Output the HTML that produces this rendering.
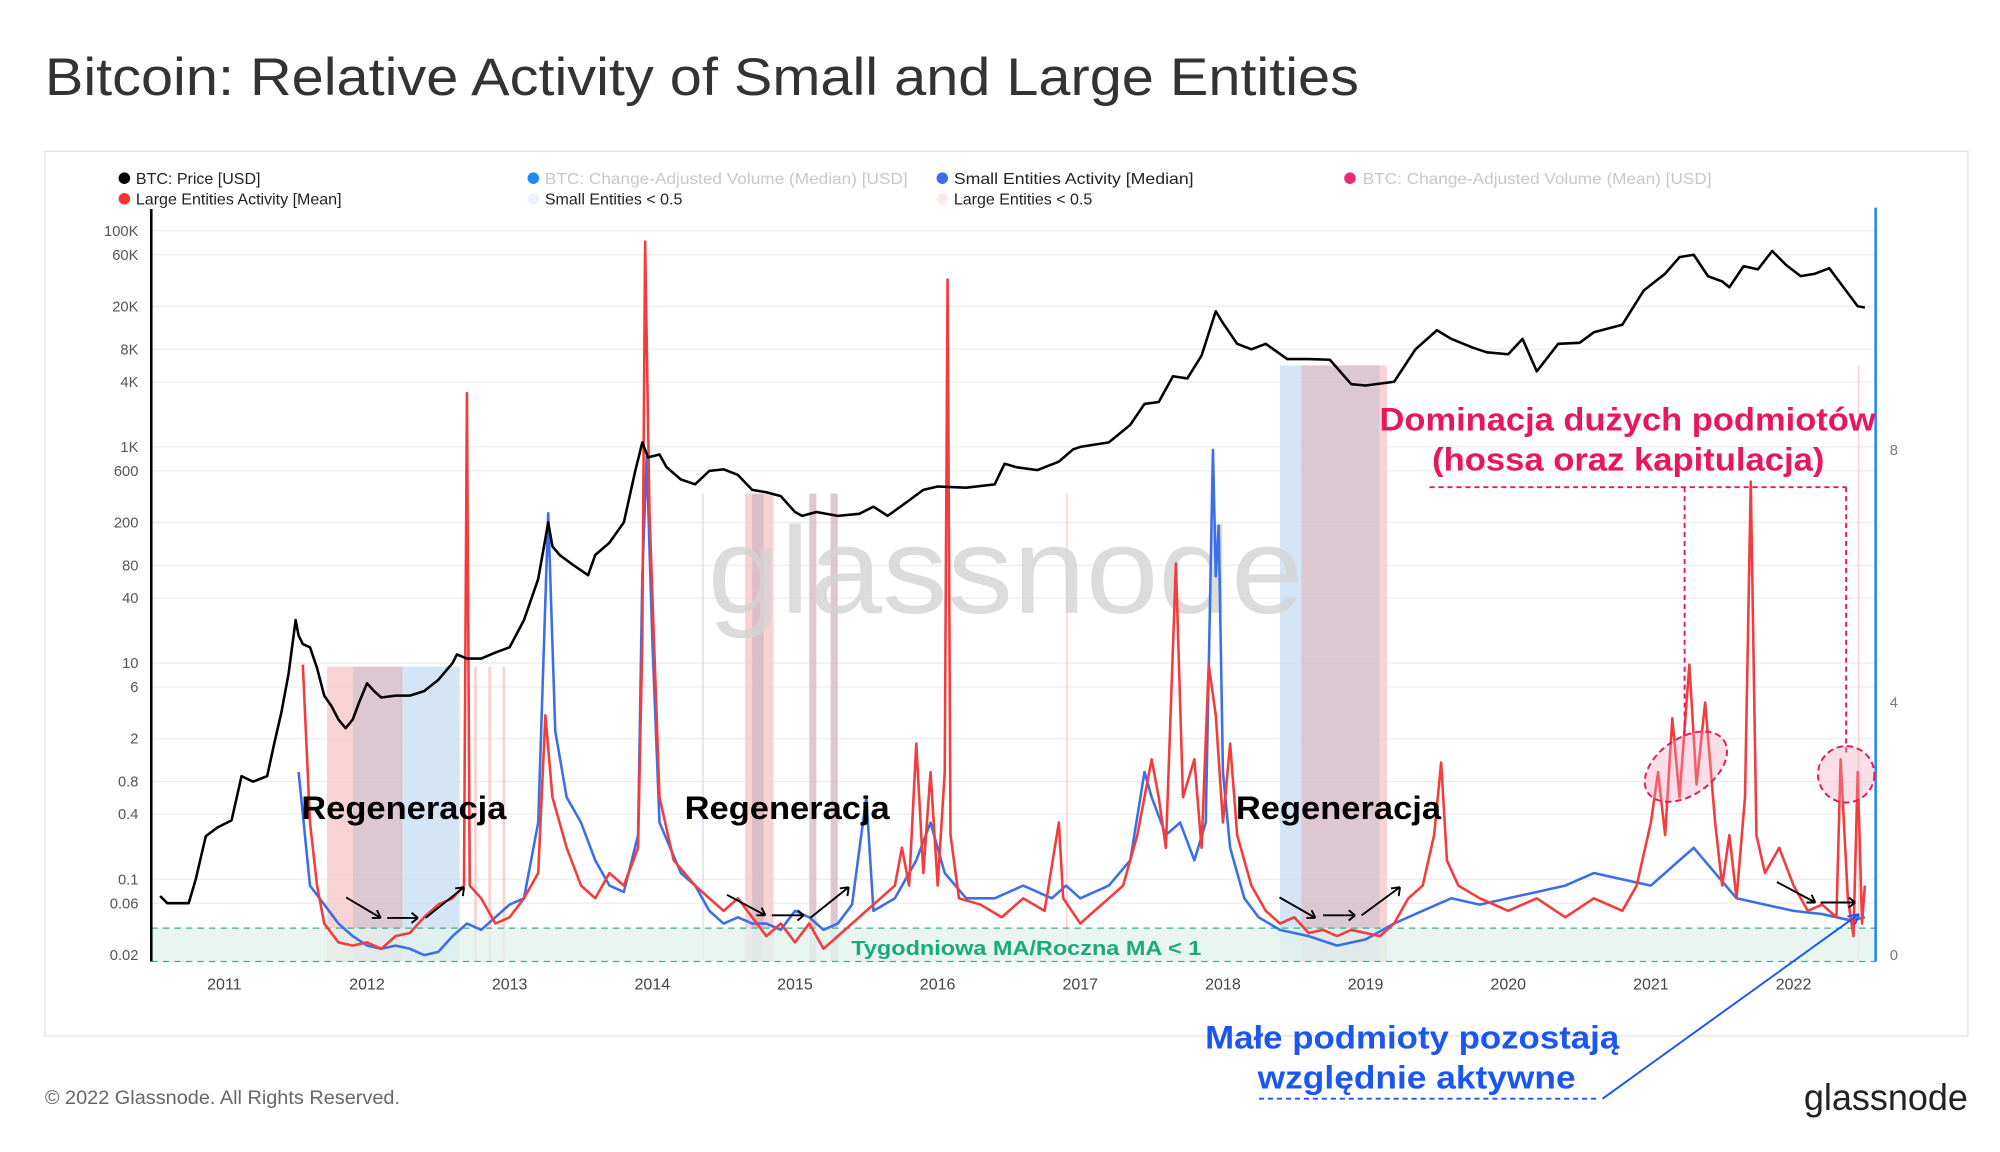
<!DOCTYPE html>
<html><head><meta charset="utf-8"><style>
html,body{margin:0;padding:0;background:#fff;}
svg{display:block;font-family:"Liberation Sans",sans-serif;}
</style></head><body>
<svg id="chart" width="2000" height="1152" viewBox="0 0 1560 898.6" preserveAspectRatio="none" xmlns="http://www.w3.org/2000/svg">
<text x="35" y="74" font-size="41" fill="#333" textLength="1025" lengthAdjust="spacingAndGlyphs">Bitcoin: Relative Activity of Small and Large Entities</text>
<rect x="35" y="118" width="1500" height="690" fill="none" stroke="#e6e6e6" stroke-width="1.2"/>
<g font-size="12.5">
 <g><circle cx="97" cy="139" r="4.5" fill="#000"/><text x="106" y="143.5" fill="#222">BTC: Price [USD]</text></g>
 <g><circle cx="97" cy="155" r="4.5" fill="#f33"/><text x="106" y="159.5" fill="#222">Large Entities Activity [Mean]</text></g>
 <g><circle cx="416" cy="139" r="4.5" fill="#1e88ff"/><text x="425" y="143.5" fill="#c8c8c8" textLength="283" lengthAdjust="spacingAndGlyphs">BTC: Change-Adjusted Volume (Median) [USD]</text></g>
 <g><circle cx="416" cy="155" r="4.5" fill="#eaf2fb"/><text x="425" y="159.5" fill="#222">Small Entities &lt; 0.5</text></g>
 <g><circle cx="735" cy="139" r="4.5" fill="#3a6fe8"/><text x="744" y="143.5" fill="#222" textLength="187" lengthAdjust="spacingAndGlyphs">Small Entities Activity [Median]</text></g>
 <g><circle cx="735" cy="155" r="4.5" fill="#fbeaea"/><text x="744" y="159.5" fill="#222">Large Entities &lt; 0.5</text></g>
 <g><circle cx="1053" cy="139" r="4.5" fill="#f0287a"/><text x="1063" y="143.5" fill="#c8c8c8" textLength="272" lengthAdjust="spacingAndGlyphs">BTC: Change-Adjusted Volume (Mean) [USD]</text></g>
</g>
<g id="grid"></g>
<g id="bands"></g>
<rect x="118" y="724" width="1345" height="26" fill="#e2f3ee" opacity="0.8"/>
<line x1="118" y1="724" x2="1463" y2="724" stroke="#3cb38a" stroke-dasharray="5,4" stroke-width="1"/>
<line x1="118" y1="750" x2="1463" y2="750" stroke="#3cb38a" stroke-dasharray="5,4" stroke-width="1"/>
<text x="552" y="478" font-size="96" fill="#d4d4d4" opacity="0.8" textLength="465" lengthAdjust="spacingAndGlyphs">glassnode</text>
<g id="yleft" font-size="11.5" fill="#555" text-anchor="end"></g>
<g id="yright" font-size="11.5" fill="#777"></g>
<g id="xaxis" font-size="12.5" fill="#444" text-anchor="middle"></g>
<line x1="118" y1="163" x2="118" y2="750" stroke="#000" stroke-width="2"/>
<line x1="1463" y1="162" x2="1463" y2="750" stroke="#1e88ff" stroke-width="2"/>
<g id="series"></g>
<text x="664" y="745" font-size="16" font-weight="bold" fill="#1aa97c" textLength="273" lengthAdjust="spacingAndGlyphs">Tygodniowa MA/Roczna MA  &lt; 1</text>
<g font-weight="bold">
 <text x="235" y="639" font-size="25" fill="#000" textLength="160" lengthAdjust="spacingAndGlyphs">Regeneracja</text>
 <text x="534" y="639" font-size="25" fill="#000" textLength="160" lengthAdjust="spacingAndGlyphs">Regeneracja</text>
 <text x="964" y="639" font-size="25" fill="#000" textLength="160" lengthAdjust="spacingAndGlyphs">Regeneracja</text>
 <text x="1076" y="336" font-size="25" fill="#e8175d" textLength="387" lengthAdjust="spacingAndGlyphs">Dominacja dużych podmiotów</text>
 <text x="1117" y="367" font-size="25" fill="#e8175d" textLength="306" lengthAdjust="spacingAndGlyphs">(hossa oraz kapitulacja)</text>
 <text x="940" y="818" font-size="25" fill="#1a56f0" textLength="323" lengthAdjust="spacingAndGlyphs">Małe podmioty pozostają</text>
 <text x="981" y="849" font-size="25" fill="#1a56f0" textLength="248" lengthAdjust="spacingAndGlyphs">względnie aktywne</text>
</g>
<g fill="none">
 <path d="M1115 380 H1440 M1314 380 V575 M1440 380 V590" stroke="#e8175d" stroke-dasharray="4,3" stroke-width="1.5"/>
 <ellipse cx="1315" cy="598" rx="36" ry="22" transform="rotate(-35 1315 598)" fill="#f5a0c0" fill-opacity="0.35" stroke="#e8175d" stroke-dasharray="5,3" stroke-width="1.5"/>
 <circle cx="1440" cy="604" r="22" fill="#f5a0c0" fill-opacity="0.35" stroke="#e8175d" stroke-dasharray="5,3" stroke-width="1.5"/>
 <path d="M982 857 H1245" stroke="#1a56f0" stroke-dasharray="4,3" stroke-width="1.5"/>
 <path d="M1250 857 L1450 713 M1450 713 l-9 2 M1450 713 l-3 8" stroke="#1a56f0" stroke-width="1.5"/>
 <g stroke="#000" stroke-width="1.5">
  <path d="M270 700 l27 16 m0 0 l-7 0 m7 0 l-3 -6"/><path d="M302 716 h24 m0 0 l-5 -4 m5 4 l-5 4"/><path d="M332 716 l30 -24 m0 0 l-7 1 m7 -1 l-1 7"/>
  <path d="M567 698 l30 16 m0 0 l-7 0 m7 0 l-3 -6"/><path d="M602 714 h25 m0 0 l-5 -4 m5 4 l-5 4"/><path d="M632 716 l30 -24 m0 0 l-7 1 m7 -1 l-1 7"/>
  <path d="M998 700 l28 16 m0 0 l-7 0 m7 0 l-3 -6"/><path d="M1032 714 h25 m0 0 l-5 -4 m5 4 l-5 4"/><path d="M1062 714 l30 -22 m0 0 l-7 1 m7 -1 l-1 7"/>
  <path d="M1386 688 l30 16 m0 0 l-7 0 m7 0 l-3 -6"/><path d="M1420 704 h27 m0 0 l-5 -4 m5 4 l-5 4"/>
 </g>
</g>
<text x="35" y="861" font-size="15" fill="#666" textLength="277" lengthAdjust="spacingAndGlyphs">© 2022 Glassnode. All Rights Reserved.</text>
<text x="1407" y="866" font-size="29" fill="#222" textLength="128" lengthAdjust="spacingAndGlyphs">glassnode</text>
</svg>
<script>
const priceTicks=[100000,60000,20000,8000,4000,1000,600,200,80,40,10,6,2,0.8,0.4,0.1,0.06,0.02];
const priceTickLabels=["100K","60K","20K","8K","4K","1K","600","200","80","40","10","6","2","0.8","0.4","0.1","0.06","0.02"];
const activityTicks=[0,4,8];
const yearTicks=[2011,2012,2013,2014,2015,2016,2017,2018,2019,2020,2021,2022];
const priceDates=[2010.55,2010.6,2010.75,2010.8,2010.87,2010.95,2011.05,2011.12,2011.2,2011.3,2011.35,2011.4,2011.45,2011.5,2011.52,2011.55,2011.6,2011.65,2011.7,2011.75,2011.8,2011.85,2011.9,2011.95,2012.0,2012.05,2012.1,2012.2,2012.3,2012.4,2012.5,2012.6,2012.63,2012.7,2012.8,2012.9,2013.0,2013.1,2013.2,2013.27,2013.3,2013.35,2013.45,2013.55,2013.6,2013.7,2013.8,2013.88,2013.93,2013.97,2014.05,2014.1,2014.2,2014.3,2014.4,2014.5,2014.6,2014.7,2014.8,2014.9,2015.0,2015.05,2015.15,2015.3,2015.45,2015.55,2015.65,2015.8,2015.9,2016.0,2016.2,2016.4,2016.47,2016.55,2016.7,2016.85,2016.95,2017.0,2017.2,2017.35,2017.45,2017.55,2017.65,2017.75,2017.85,2017.95,2018.0,2018.1,2018.2,2018.3,2018.45,2018.6,2018.75,2018.9,2019.0,2019.2,2019.35,2019.5,2019.6,2019.75,2019.85,2020.0,2020.1,2020.2,2020.35,2020.5,2020.6,2020.8,2020.95,2021.1,2021.2,2021.3,2021.4,2021.5,2021.55,2021.65,2021.75,2021.85,2021.95,2022.05,2022.15,2022.25,2022.35,2022.45,2022.5];
const priceValues=[0.07,0.06,0.06,0.1,0.25,0.3,0.35,0.9,0.8,0.9,1.8,3.5,8,25,18,15,14,9,5,4,3,2.5,3,4.5,6.5,5.5,4.8,5,5,5.5,7,10,12,11,11,12.5,14,25,60,200,120,100,80,65,100,130,200,600,1100,800,850,650,500,450,600,620,550,400,380,350,250,230,250,230,240,280,230,320,400,430,420,450,700,650,610,730,950,1000,1100,1600,2500,2600,4500,4300,7000,18000,14000,9000,8000,9000,6500,6500,6400,3800,3700,4000,8000,12000,10000,8300,7500,7200,10000,5000,9000,9200,11500,13500,28000,40000,57000,60000,38000,34000,30000,47000,44000,65000,48000,38000,40000,45000,30000,20000,19500];
const largeDates=[2011.55,2011.6,2011.65,2011.7,2011.8,2011.9,2012.0,2012.1,2012.2,2012.3,2012.4,2012.5,2012.6,2012.68,2012.7,2012.72,2012.8,2012.9,2013.0,2013.1,2013.2,2013.25,2013.3,2013.4,2013.5,2013.6,2013.7,2013.8,2013.9,2013.93,2013.95,2013.98,2014.05,2014.15,2014.3,2014.4,2014.5,2014.6,2014.7,2014.8,2014.9,2015.0,2015.1,2015.2,2015.3,2015.4,2015.5,2015.6,2015.7,2015.75,2015.8,2015.85,2015.9,2015.95,2016.0,2016.05,2016.07,2016.09,2016.15,2016.3,2016.45,2016.6,2016.75,2016.85,2016.88,2017.0,2017.1,2017.2,2017.3,2017.4,2017.5,2017.55,2017.6,2017.67,2017.72,2017.8,2017.85,2017.9,2017.95,2018.0,2018.05,2018.1,2018.2,2018.3,2018.4,2018.5,2018.6,2018.7,2018.8,2018.9,2019.0,2019.1,2019.2,2019.3,2019.4,2019.48,2019.53,2019.57,2019.65,2019.8,2020.0,2020.2,2020.4,2020.6,2020.8,2020.9,2021.0,2021.05,2021.1,2021.15,2021.2,2021.27,2021.32,2021.38,2021.45,2021.5,2021.55,2021.6,2021.66,2021.7,2021.74,2021.8,2021.9,2022.0,2022.1,2022.2,2022.3,2022.33,2022.38,2022.42,2022.45,2022.48,2022.5];
const largeValues=[4.6,2.1,1.1,0.5,0.2,0.15,0.2,0.1,0.3,0.35,0.6,0.8,0.9,1.1,8.9,1.1,0.9,0.5,0.6,0.9,1.3,3.8,2.5,1.7,1.1,0.9,1.3,1.1,1.7,5.0,11.3,7,2.5,1.5,1.1,0.9,0.7,0.9,0.6,0.3,0.5,0.2,0.5,0.1,0.3,0.5,0.7,0.9,1.1,1.7,1.1,3.35,1.3,2.9,1.1,2.9,10.7,1.9,0.9,0.8,0.6,0.9,0.7,2.1,0.9,0.5,0.7,0.9,1.1,1.9,3.1,2.5,1.7,6.2,2.5,3.1,1.7,4.6,3.8,2.1,3.35,1.9,1.1,0.7,0.5,0.6,0.35,0.4,0.3,0.4,0.35,0.3,0.5,0.9,1.1,1.9,3.05,1.5,1.1,0.9,0.7,0.9,0.6,0.9,0.7,1.1,2.1,2.9,1.9,3.75,2.5,4.6,2.7,4,2.1,1.1,1.9,0.9,2.5,7.5,1.9,1.3,1.7,1.1,0.7,0.8,0.6,3.1,0.9,0.3,2.9,0.5,1.1];
const smallDates=[2011.52,2011.6,2011.7,2011.8,2011.9,2012.0,2012.1,2012.2,2012.3,2012.4,2012.5,2012.6,2012.7,2012.8,2012.9,2013.0,2013.1,2013.2,2013.27,2013.32,2013.4,2013.5,2013.6,2013.7,2013.8,2013.9,2013.93,2013.96,2014.0,2014.05,2014.2,2014.3,2014.4,2014.5,2014.6,2014.7,2014.8,2014.9,2015.0,2015.1,2015.2,2015.3,2015.4,2015.5,2015.55,2015.7,2015.85,2015.95,2016.05,2016.2,2016.4,2016.6,2016.8,2016.9,2017.0,2017.2,2017.35,2017.45,2017.5,2017.6,2017.7,2017.8,2017.88,2017.93,2017.95,2017.97,2018.0,2018.05,2018.15,2018.25,2018.4,2018.6,2018.8,2019.0,2019.2,2019.4,2019.6,2019.8,2020.0,2020.2,2020.4,2020.6,2020.8,2021.0,2021.15,2021.3,2021.45,2021.6,2021.8,2022.0,2022.2,2022.4,2022.5];
const smallValues=[2.9,1.1,0.8,0.5,0.3,0.15,0.1,0.15,0.1,0,0.05,0.3,0.5,0.4,0.6,0.8,0.9,2.1,7,3.55,2.5,2.1,1.5,1.1,1.0,1.9,6,7.9,5,2.1,1.3,1.1,0.7,0.5,0.6,0.5,0.5,0.4,0.7,0.6,0.4,0.5,0.8,2.5,0.7,0.9,1.5,2.1,1.3,0.9,0.9,1.1,0.9,1.1,0.9,1.1,1.5,2.9,2.5,1.9,2.1,1.5,2.1,8,6,6.8,2.9,1.7,0.9,0.6,0.4,0.3,0.15,0.25,0.5,0.7,0.9,0.8,0.9,1.0,1.1,1.3,1.2,1.1,1.4,1.7,1.3,0.9,0.8,0.7,0.65,0.55,0.6];
const bandStarts=[2011.72,2011.9,2012.25,2012.75,2012.85,2012.95,2014.35,2014.65,2014.7,2015.1,2015.25,2016.9,2018.4,2018.55,2019.1,2022.45];
const bandEnds=[2011.9,2012.25,2012.65,2012.77,2012.87,2012.97,2014.36,2014.85,2014.78,2015.15,2015.3,2016.91,2018.55,2019.1,2019.15,2022.46];
const bandKinds=["large","both","small","large","large","large","small","large","both","both","both","large","small","both","large","large"];

const NS="http://www.w3.org/2000/svg";
const xOf=y=>175+(y-2011)*111.27;
const yPrice=v=>180+(5-Math.log10(v))*84.3;
const yAct=v=>745-v*49.25;
function mk(tag,attrs,parent){const e=document.createElementNS(NS,tag);for(const k in attrs)e.setAttribute(k,attrs[k]);parent.appendChild(e);return e;}
const grid=document.getElementById('grid');
priceTicks.forEach((t,i)=>{
  const y=yPrice(t);
  const g=mk('line',{x1:118,x2:1463,y1:y,y2:y,stroke:'#eeeeee','stroke-width':1},grid);
  
  
  const tx=mk('text',{x:108,y:y+4},document.getElementById('yleft'));
  tx.textContent=priceTickLabels[i];
  
  
});
activityTicks.forEach(t=>{
  const tx=mk('text',{x:1474,y:yAct(t)+4},document.getElementById('yright'));
  tx.textContent=t;
  
  
});
yearTicks.forEach(t=>{
  const tx=mk('text',{x:xOf(t),y:772},document.getElementById('xaxis'));
  tx.textContent=t;
  
  
});
const bands=document.getElementById('bands');
bandStarts.forEach((s,i)=>{
  const x0=xOf(s),x1=xOf(bandEnds[i]);
  const col=bandKinds[i]==='large'?'#f5c4c4':bandKinds[i]==='small'?'#c6def3':'#d2b6c3';
  const top=s>2018?285:(s<2013?520:385);
  const r=mk('rect',{x:x0,y:top,width:Math.max(1.2,x1-x0),height:750-top,fill:col,opacity:0.75},bands);
  
  
});
const series=document.getElementById('series');
function line(dates,vals,fy,color,w,name){
  const d=dates.map((t,i)=>(i?'L':'M')+xOf(t).toFixed(1)+' '+fy(vals[i]).toFixed(1)).join(' ');
  const p=mk('path',{d:d,fill:'none',stroke:color,'stroke-width':w,'stroke-linejoin':'round'},series);
  
  
}
line(smallDates,smallValues,yAct,'#3a6fe8',2,'small-entities-line');
line(largeDates,largeValues,yAct,'#f53b3b',2,'large-entities-line');
line(priceDates,priceValues,yPrice,'#000',2,'price-line');
</script>
</body></html>
